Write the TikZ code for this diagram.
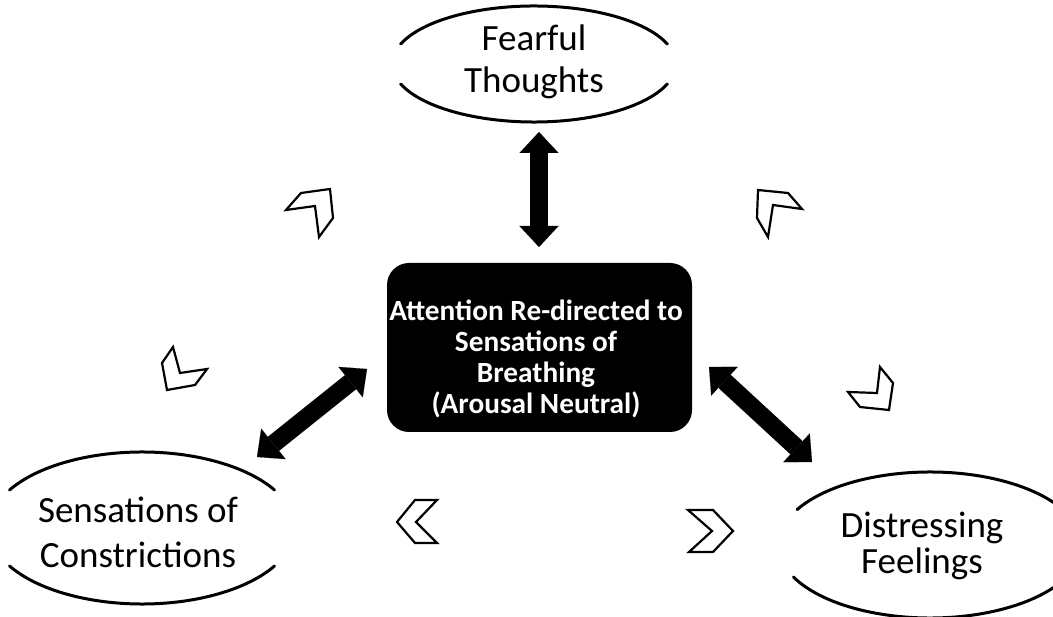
\documentclass[tikz,border=0pt]{standalone}
\usepackage{fontspec}
\setmainfont{Carlito}
\usetikzlibrary{arrows.meta,shapes.geometric}
\begin{document}
\begin{tikzpicture}[x=1pt,y=-1pt,
  arc/.style={line width=3pt,line cap=round},
  lbl/.style={align=center,inner sep=0pt,font=\fontsize{37}{42}\selectfont},
  dbl/.style={line width=18pt,{Triangle[width=39pt,length=21pt,line width=0.1pt]}-{Triangle[width=39pt,length=21pt,line width=0.1pt]}},
  chev/.style={draw=black,fill=white,line width=2.2pt,line join=miter}]
\useasboundingbox[fill=white] (0,0) rectangle (1053,617);
% centre box
\node[fill=black,rounded corners=22pt,minimum width=305pt,minimum height=169pt,inner sep=0pt] (ctr) at (539.5,347.5) {};
\node[align=center,inner sep=0pt,text=white,font=\bfseries\fontsize{29.3}{31}\selectfont] (ctrt) at (536,359) {Attention Re-directed to\\Sensations of\\Breathing\\(Arousal Neutral)};
% fearful thoughts
\node[ellipse,minimum width=284pt,minimum height=116pt,inner sep=0pt] (ft) at (534,64) {};
\draw[arc] ([shift={(160:142pt and 58pt)}]ft.center) arc[start angle=160,end angle=20,x radius=142pt,y radius=58pt];
\draw[arc] ([shift={(200:142pt and 58pt)}]ft.center) arc[start angle=200,end angle=340,x radius=142pt,y radius=58pt];
\node[lbl] (ftt) at (534,62) {Fearful\\Thoughts};
% sensations of constrictions
\node[ellipse,minimum width=306pt,minimum height=152pt,inner sep=0pt] (sc) at (142,528) {};
\draw[arc] ([shift={(150:153pt and 76pt)}]sc.center) arc[start angle=150,end angle=30,x radius=153pt,y radius=76pt];
\draw[arc] ([shift={(210:153pt and 76pt)}]sc.center) arc[start angle=210,end angle=330,x radius=153pt,y radius=76pt];
\node[lbl,font=\fontsize{37}{45}\selectfont] (sct) at (138,532) {Sensations of\\Constrictions};
% distressing feelings
\node[ellipse,minimum width=304pt,minimum height=146pt,inner sep=0pt] (df) at (930,545) {};
\draw[arc] ([shift={(151:152pt and 73pt)}]df.center) arc[start angle=151,end angle=29,x radius=152pt,y radius=73pt];
\draw[arc] ([shift={(206:152pt and 73pt)}]df.center) arc[start angle=206,end angle=334,x radius=152pt,y radius=73pt];
\node[lbl,font=\fontsize{37}{36}\selectfont] (dft) at (922,546) {Distressing\\Feelings};
% double arrows
\coordinate (a1) at (539,132); \coordinate (a2) at (539,247);
\coordinate (b1) at (367,369); \coordinate (b2) at (257,457);
\coordinate (c1) at (709,367); \coordinate (c2) at (812,462);
\draw[dbl] (a1) -- (a2);
\draw[dbl] (b1) -- (b2);
\draw[dbl] (c1) -- (c2);
% chevrons
\draw[chev] (286,210) -- (301,193) -- (330,189) -- (333,218) -- (319,237) -- (315,206) -- cycle;
\draw[chev] (758,190) -- (788,193) -- (802,209) -- (773,205) -- (768,237) -- (757,218) -- cycle;
\draw[chev] (173,347) -- (180,373) -- (207,369) -- (195,385) -- (167,390) -- (162,363) -- cycle;
\draw[chev] (880,367) -- (893,383) -- (889,410) -- (860,407) -- (848,392) -- (877,393) -- cycle;
\draw[chev] (397,522) -- (415,500) -- (437,500) -- (416,522) -- (437,543) -- (415,543) -- cycle;
\draw[chev] (688,510) -- (713,510) -- (733,531) -- (713,552) -- (689,552) -- (712,531) -- cycle;
\end{tikzpicture}
\end{document}
